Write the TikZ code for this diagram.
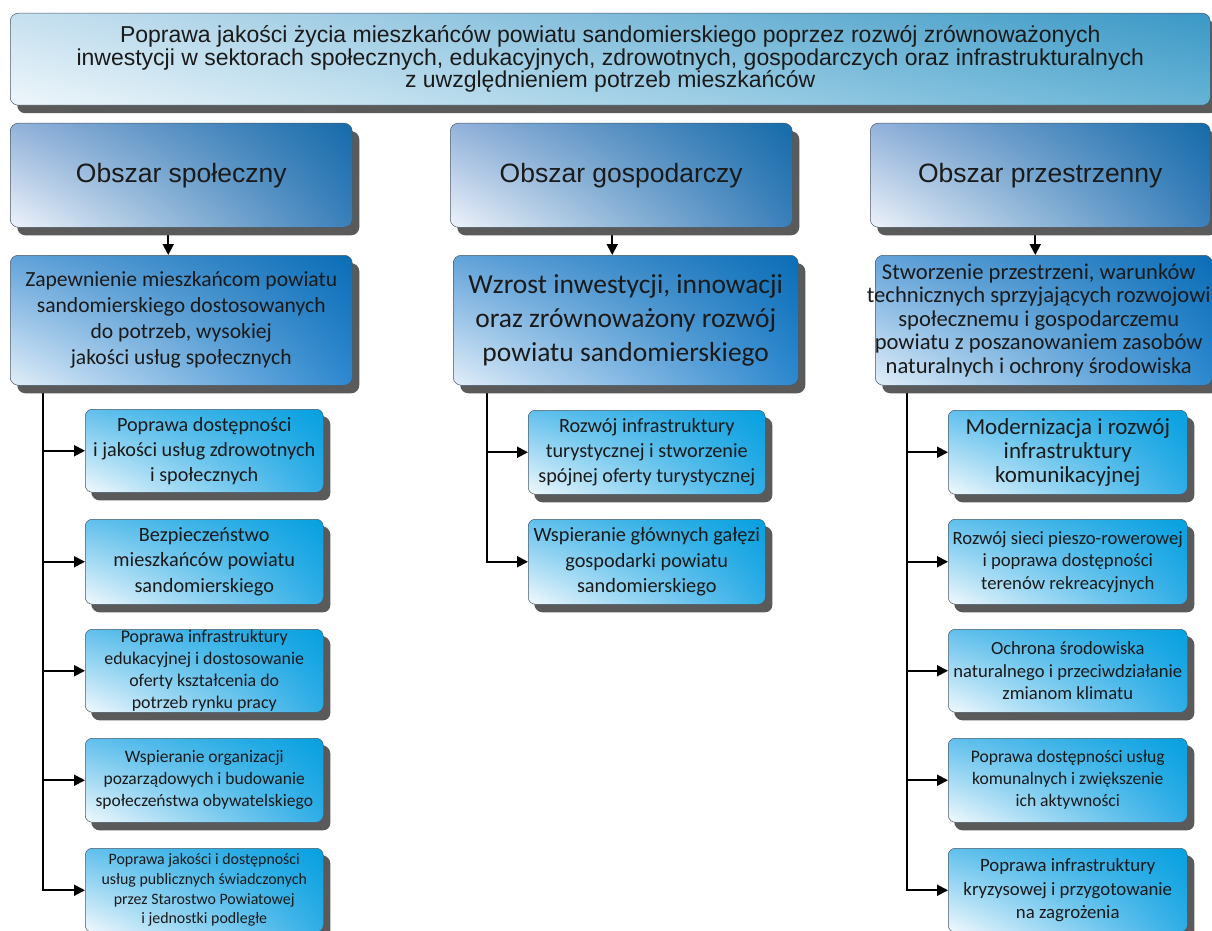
\documentclass[tikz,border=0pt]{standalone}
\usepackage{fontspec}
\setmainfont{Carlito}
\newfontfamily\arialf{Liberation Sans}
\usetikzlibrary{arrows.meta,shadows,shadings,backgrounds,calc}
\definecolor{txt}{HTML}{1A1A1A}
\definecolor{shd}{HTML}{5A5A5A}
\definecolor{edge}{HTML}{4A5A66}
\definecolor{tUL}{HTML}{C6E0EF}\definecolor{tUR}{HTML}{3A98C5}
\definecolor{tLL}{HTML}{EEF6FB}\definecolor{tLR}{HTML}{66B3D6}
\definecolor{oUL}{HTML}{93B2DA}\definecolor{oUR}{HTML}{156BAA}
\definecolor{oLL}{HTML}{EEF3FA}\definecolor{oLR}{HTML}{3A7FBA}
\definecolor{gUL}{HTML}{62A3DA}\definecolor{gUR}{HTML}{0B6DB6}
\definecolor{gLL}{HTML}{E2EEF9}\definecolor{gLR}{HTML}{2D88CF}
\definecolor{sUL}{HTML}{62C0EC}\definecolor{sUR}{HTML}{06A0E0}
\definecolor{sLL}{HTML}{F2F9FD}\definecolor{sLR}{HTML}{2FADE6}
\tikzset{
  basebox/.style={anchor=north west, rounded corners=8pt, draw=edge, line width=0.5pt,
    text=txt, align=center, inner sep=0pt,
    drop shadow={shadow xshift=7pt, shadow yshift=-8pt, fill=shd, opacity=1}},
  topbox/.style={basebox,
    upper left=tUL, upper right=tUR, lower left=tLL, lower right=tLR,
    font=\arialf\fontsize{23}{22.5}\selectfont},
  areabox/.style={basebox,
    upper left=oUL, upper right=oUR, lower left=oLL, lower right=oLR,
    font=\arialf\fontsize{26.5}{30}\selectfont},
  goalbox/.style={basebox,
    upper left=gUL, upper right=gUR, lower left=gLL, lower right=gLR},
  subbox/.style={basebox, rounded corners=7pt,
    drop shadow={shadow xshift=6pt, shadow yshift=-7pt, fill=shd, opacity=1},
    upper left=sUL, upper right=sUR, lower left=sLL, lower right=sLR},
  conn/.style={line width=1.9pt, draw=black},
  arr/.style={conn, -{Triangle[length=11pt,width=11pt]}}
}
\begin{document}
\begin{tikzpicture}[x=1pt,y=-1pt]
\useasboundingbox (0,0) rectangle (1212,931);

% top banner
\node[topbox, minimum width=1200pt, minimum height=92pt] (top) at (10,13)
 {Poprawa jakości życia mieszkańców powiatu sandomierskiego poprzez rozwój zrównoważonych\\
  inwestycji w sektorach społecznych, edukacyjnych, zdrowotnych, gospodarczych oraz infrastrukturalnych\\
  z uwzględnieniem potrzeb mieszkańców};

% area boxes
\node[areabox, minimum width=342pt, minimum height=104pt] (o1) at (10,123) {Obszar społeczny};
\node[areabox, minimum width=342pt, minimum height=104pt] (o2) at (450,123) {Obszar gospodarczy};
\node[areabox, minimum width=340pt, minimum height=104pt] (o3) at (870,123) {Obszar przestrzenny};

% goal boxes
\node[goalbox, minimum width=342pt, minimum height=130pt, font=\fontsize{21.6}{26}\selectfont] (z1) at (10,255)
 {Zapewnienie mieszkańcom powiatu\\ sandomierskiego dostosowanych\\ do potrzeb, wysokiej\\ jakości usług społecznych};
\node[goalbox, minimum width=345pt, minimum height=130pt, font=\fontsize{27.5}{34}\selectfont] (z2) at (453,255)
 {Wzrost inwestycji, innowacji\\ oraz zrównoważony rozwój\\ powiatu sandomierskiego};
\node[goalbox, minimum width=337pt, minimum height=130pt,
  label={[xshift=-5pt, align=center, text=txt, inner sep=0pt, font=\fontsize{22.6}{23.5}\selectfont]center:{Stworzenie przestrzeni, warunków\\ technicznych sprzyjających rozwojowi\\ społecznemu i gospodarczemu\\ powiatu z poszanowaniem zasobów\\ naturalnych i ochrony środowiska}}] (z3) at (875,255) {};

% left column sub boxes
\node[subbox, minimum width=238pt, minimum height=83pt, font=\fontsize{20.2}{25}\selectfont] (a1) at (85,409)
 {Poprawa dostępności\\ i jakości usług zdrowotnych\\ i społecznych};
\node[subbox, minimum width=238pt, minimum height=85pt, font=\fontsize{20.3}{25.5}\selectfont] (a2) at (85,519)
 {Bezpieczeństwo\\ mieszkańców powiatu\\ sandomierskiego};
\node[subbox, minimum width=238pt, minimum height=83pt, font=\fontsize{17.9}{21.7}\selectfont] (a3) at (85,629)
 {Poprawa infrastruktury\\ edukacyjnej i dostosowanie\\ oferty kształcenia do\\ potrzeb rynku pracy};
\node[subbox, minimum width=238pt, minimum height=84pt, font=\fontsize{17.5}{22}\selectfont] (a4) at (85,738)
 {Wspieranie organizacji\\ pozarządowych i budowanie\\ społeczeństwa obywatelskiego};
\node[subbox, minimum width=238pt, minimum height=84pt, font=\fontsize{15.9}{19.7}\selectfont] (a5) at (85,848)
 {Poprawa jakości i dostępności\\ usług publicznych świadczonych\\ przez Starostwo Powiatowej\\ i jednostki podległe};

% middle column sub boxes
\node[subbox, minimum width=237pt, minimum height=84pt, font=\fontsize{20.2}{25}\selectfont] (b1) at (528,410)
 {Rozwój infrastruktury\\ turystycznej i stworzenie\\ spójnej oferty turystycznej};
\node[subbox, minimum width=237pt, minimum height=85pt, font=\fontsize{20.3}{25.5}\selectfont] (b2) at (528,519)
 {Wspieranie głównych gałęzi\\ gospodarki powiatu\\ sandomierskiego};

% right column sub boxes
\node[subbox, minimum width=239pt, minimum height=84pt, font=\fontsize{23}{24}\selectfont] (c1) at (948,410)
 {Modernizacja i rozwój\\ infrastruktury\\ komunikacyjnej};
\node[subbox, minimum width=239pt, minimum height=85pt, font=\fontsize{18.7}{22.5}\selectfont] (c2) at (948,519)
 {Rozwój sieci pieszo-rowerowej\\ i poprawa dostępności\\ terenów rekreacyjnych};
\node[subbox, minimum width=239pt, minimum height=83pt, font=\fontsize{18.6}{22.5}\selectfont] (c3) at (948,629)
 {Ochrona środowiska\\ naturalnego i przeciwdziałanie\\ zmianom klimatu};
\node[subbox, minimum width=239pt, minimum height=84pt, font=\fontsize{17.6}{22}\selectfont] (c4) at (948,738)
 {Poprawa dostępności usług\\ komunalnych i zwiększenie\\ ich aktywności};
\node[subbox, minimum width=239pt, minimum height=84pt, font=\fontsize{18.8}{23.5}\selectfont] (c5) at (948,848)
 {Poprawa infrastruktury\\ kryzysowej i przygotowanie\\ na zagrożenia};

% connectors (behind the boxes and their shadows)
\begin{scope}[on background layer]
\fill[white] (0,0) rectangle (1212,931);
\draw[arr] ([xshift=-13pt]o1.south) -- ([xshift=-13pt]o1.south |- z1.north);
\draw[arr] ([xshift=-9pt]o2.south) -- ([xshift=-9pt]o2.south |- z2.north);
\draw[arr] ([xshift=-5pt]o3.south) -- ([xshift=-5pt]o3.south |- z3.north);

\coordinate (s1) at ($(z1.south west)+(33,0)$);
\coordinate (s2) at ($(z2.south west)+(34,0)$);
\coordinate (s3) at ($(z3.south west)+(32,0)$);

\foreach \n in {a1,a2,a3,a4,a5} \draw[arr] (s1) |- (\n.west);
\foreach \n in {b1,b2} \draw[arr] (s2) |- (\n.west);
\foreach \n in {c1,c2,c3,c4,c5} \draw[arr] (s3) |- (\n.west);
\end{scope}
\end{tikzpicture}
\end{document}
